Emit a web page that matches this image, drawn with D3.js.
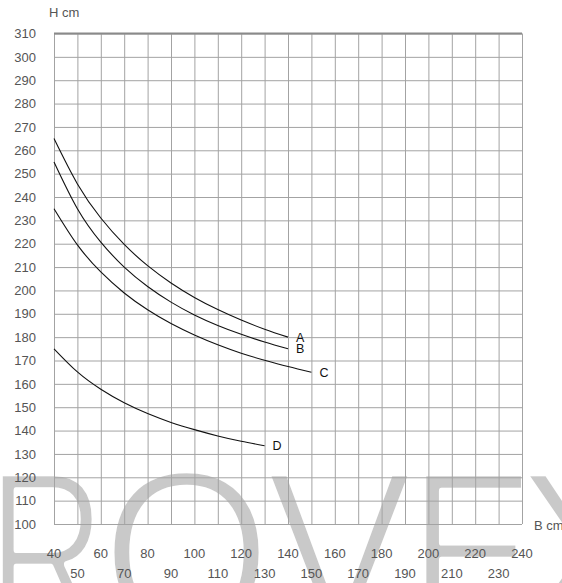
<!DOCTYPE html>
<html><head><meta charset="utf-8">
<script src="https://cdn.jsdelivr.net/npm/d3@7"></script>
<style>
html,body{margin:0;padding:0;background:#fff;}
svg{display:block;font-family:"Liberation Sans",Arial,sans-serif;}
</style></head>
<body><svg id="c" width="562" height="583"></svg>
<script>
// ---- data ----
const xTicks = [40,50,60,70,80,90,100,110,120,130,140,150,160,170,180,190,200,210,220,230,240];
const yTicks = [100,110,120,130,140,150,160,170,180,190,200,210,220,230,240,250,260,270,280,290,300,310];
const seriesNames = ["A","B","C","D"];
const xA = [40,50,60,70,80,90,100,110,120,130,140];
const hA = [265,245.6,231,219.7,210.6,203.2,197,191.8,187.3,183.4,180];
const xB = [40,50,60,70,80,90,100,110,120,130,140];
const hB = [255,235,220.7,210,201.7,195,189.5,185,181.2,177.9,175];
const xC = [40,50,60,70,80,90,100,110,120,130,140,150];
const hC = [235,219.5,207.9,198.9,191.7,185.8,180.9,176.7,173.1,170.1,167.4,165];
const xD = [40,50,60,70,80,90,100,110,120,130];
const hD = [175,165.1,157.7,151.9,147.3,143.5,140.4,137.7,135.4,133.5];
const xLabel = "B cm";
const yLabel = "H cm";
const watermark = ["R","O","V","E","X"];

const svg = d3.select("#c");
const x = d3.scaleLinear().domain([40,240]).range([54,522]);
const y = d3.scaleLinear().domain([100,310]).range([524,33.5]);

// watermark (behind everything)
const wmConf = [
  {tx:-13, sx:0.75},
  {tx:101, sx:1},
  {tx:266, sx:1},
  {tx:408, sx:0.87},
  {tx:515, sx:1}
];
const wm = svg.append("g").attr("fill","#c9c9c9").attr("stroke","#fff").attr("stroke-width",6).attr("stroke-linejoin","round");
watermark.forEach((ch,i)=>{
  wm.append("text")
    .attr("transform",`translate(${wmConf[i].tx},634) scale(${wmConf[i].sx},1.06)`)
    .attr("font-size",220)
    .text(ch);
});

// grid via axes
const gx = svg.append("g").attr("transform",`translate(0,${y(100)})`)
  .call(d3.axisBottom(x).tickValues(xTicks).tickSize(-(y(100)-y(310))).tickFormat(""));
gx.select(".domain").remove();
gx.selectAll("line").attr("stroke","#a3a3a3");

const gy = svg.append("g").attr("transform",`translate(${x(40)},0)`)
  .call(d3.axisLeft(y).tickValues(yTicks).tickSize(-(x(240)-x(40))).tickPadding(18));
gy.select(".domain").remove();
gy.selectAll("line").attr("stroke","#a3a3a3");
gy.selectAll("text").attr("font-size",13).attr("fill","#555").attr("font-family","Liberation Sans, Arial, sans-serif");
// darker top border
svg.append("line").attr("x1",x(40)).attr("x2",x(240)).attr("y1",y(310)).attr("y2",y(310))
  .attr("stroke","#8a8a8a").attr("stroke-width",2);

// x tick labels alternating rows
svg.append("g").selectAll("text").data(xTicks).join("text")
  .attr("x",d=>x(d))
  .attr("y",(d,i)=> i%2===0 ? 553 : 573)
  .attr("dy","0.35em")
  .attr("text-anchor","middle")
  .attr("font-size",13).attr("fill","#555")
  .text(d=>d);

// axis titles
svg.append("text").attr("x",49).attr("y",12).attr("dy","0.35em").attr("font-size",13).attr("fill","#555").text(yLabel);
svg.append("text").attr("x",534).attr("y",525).attr("dy","0.35em").attr("font-size",13).attr("fill","#555").text(xLabel);

// curves
const series = [
  {name:seriesNames[0], xs:xA, hs:hA},
  {name:seriesNames[1], xs:xB, hs:hB},
  {name:seriesNames[2], xs:xC, hs:hC},
  {name:seriesNames[3], xs:xD, hs:hD}
];
const line = d3.line().x(d=>x(d[0])).y(d=>y(d[1])).curve(d3.curveNatural);
series.forEach(s=>{
  const pts = s.xs.map((v,i)=>[v,s.hs[i]]);
  svg.append("path").attr("d",line(pts)).attr("fill","none").attr("stroke","#111").attr("stroke-width",1.1);
  const last = pts[pts.length-1];
  svg.append("text").attr("x",x(last[0])+8).attr("y",y(last[1])).attr("dy","0.35em")
    .attr("font-size",12.5).attr("fill","#111").text(s.name);
});
</script></body></html>
